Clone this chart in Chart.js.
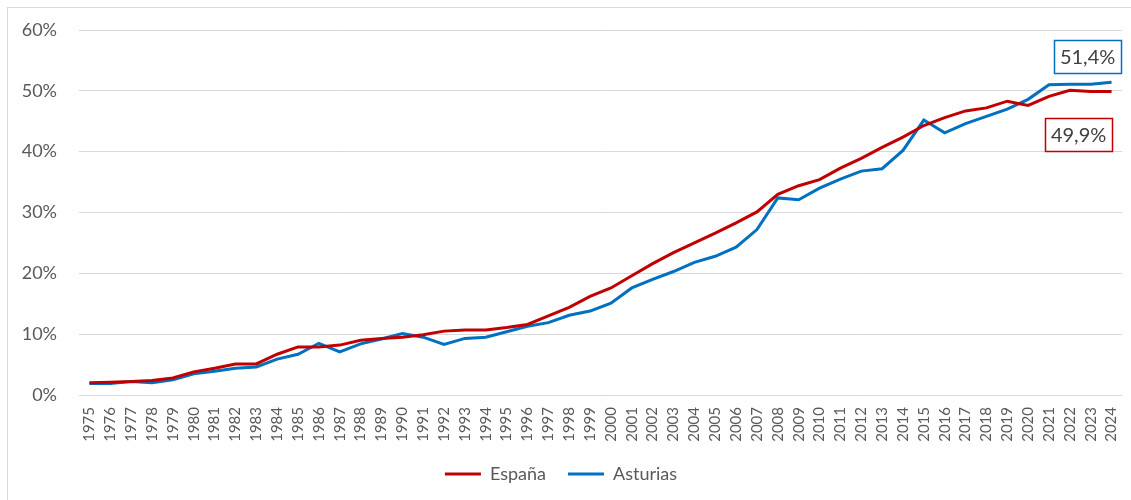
<!DOCTYPE html>
<html>
<head>
<meta charset="utf-8">
<script src="https://cdn.jsdelivr.net/npm/chart.js@4/dist/chart.umd.min.js"></script>
<style>
  html, body { margin: 0; padding: 0; background: #fff; }
  #wrap { position: absolute; left: 0; top: 0; width: 1131px; height: 500px; }
</style>
</head>
<body>
<div id="wrap"><canvas id="chart"></canvas></div>
<script>
// años
const years = [
  "1975","1976","1977","1978","1979","1980","1981","1982","1983","1984",
  "1985","1986","1987","1988","1989","1990","1991","1992","1993","1994",
  "1995","1996","1997","1998","1999","2000","2001","2002","2003","2004",
  "2005","2006","2007","2008","2009","2010","2011","2012","2013","2014",
  "2015","2016","2017","2018","2019","2020","2021","2022","2023","2024"
];

// valores en %
const espana = [
  2.0, 2.1, 2.2, 2.4, 2.8, 3.8, 4.4, 5.1, 5.1, 6.7,
  7.9, 7.9, 8.2, 9.0, 9.3, 9.5, 9.9, 10.5, 10.7, 10.7,
  11.1, 11.6, 13.0, 14.4, 16.2, 17.6, 19.6, 21.6, 23.4, 25.0,
  26.6, 28.3, 30.1, 33.0, 34.4, 35.4, 37.3, 38.9, 40.7, 42.4,
  44.3, 45.6, 46.7, 47.2, 48.3, 47.6, 49.1, 50.1, 49.9, 49.9
];
const asturias = [
  1.9, 1.9, 2.2, 2.0, 2.5, 3.5, 3.9, 4.4, 4.6, 5.9,
  6.7, 8.5, 7.1, 8.4, 9.2, 10.1, 9.5, 8.3, 9.3, 9.5,
  10.4, 11.3, 11.9, 13.1, 13.8, 15.1, 17.6, 19.0, 20.3, 21.8,
  22.8, 24.3, 27.2, 32.4, 32.1, 34.0, 35.5, 36.8, 37.2, 40.2,
  45.2, 43.1, 44.6, 45.8, 47.0, 48.6, 51.0, 51.1, 51.1, 51.4
];

const yTicks = [0, 10, 20, 30, 40, 50, 60];

const textColor = "#595959";
const gridColor = "#d9d9d9";
const fontFamily = "Lato, 'Open Sans', sans-serif";

// borde del gráfico (solo arriba e izquierda visibles)
const frame = {
  id: "frame",
  beforeDraw(chart) {
    const ctx = chart.ctx;
    ctx.save();
    ctx.strokeStyle = gridColor;
    ctx.lineWidth = 1;
    ctx.strokeRect(7.5, 7.5, chart.width + 20, chart.height + 20);
    ctx.restore();
  }
};

// etiqueta del último valor en un recuadro
const lastLabel = {
  id: "lastLabel",
  afterDatasetsDraw(chart, args, opts) {
    const ctx = chart.ctx;
    chart.data.datasets.forEach((ds, i) => {
      const off = opts.offsets[i];
      const meta = chart.getDatasetMeta(i);
      const pt = meta.data[meta.data.length - 1];
      const val = ds.data[ds.data.length - 1];
      const txt = val.toFixed(1).replace(".", ",") + "%";
      const cx = pt.x + off.dx, cy = pt.y + off.dy;
      const w = 67, h = 33;
      ctx.save();
      ctx.fillStyle = "#fff";
      ctx.fillRect(cx - w / 2, cy - h / 2, w, h);
      ctx.strokeStyle = ds.borderColor;
      ctx.lineWidth = 1.5;
      ctx.strokeRect(Math.round(cx - w / 2) + 0.5, Math.round(cy - h / 2) + 0.5, w, h);
      ctx.fillStyle = "#404040";
      ctx.font = "20px " + fontFamily;
      ctx.textAlign = "center";
      ctx.textBaseline = "middle";
      ctx.fillText(txt, cx, cy + 1);
      ctx.restore();
    });
  }
};

new Chart(document.getElementById("chart"), {
  type: "line",
  data: {
    labels: years,
    datasets: [
      {
        label: "España",
        data: espana,
        borderColor: "#C00000",
        backgroundColor: "#C00000",
        borderWidth: 3,
        pointRadius: 0,
        tension: 0
      },
      {
        label: "Asturias",
        data: asturias,
        borderColor: "#0070C0",
        backgroundColor: "#0070C0",
        borderWidth: 3,
        pointRadius: 0,
        tension: 0
      }
    ]
  },
  options: {
    responsive: true,
    maintainAspectRatio: false,
    animation: false,
    layout: { padding: { top: 30, left: 0, right: 9, bottom: 7 } },
    plugins: {
      tooltip: { enabled: false },
      legend: {
        position: "bottom",
        labels: {
          color: textColor,
          font: { family: fontFamily, size: 18 },
          boxWidth: 36,
          boxHeight: 3,
          padding: 22,
          generateLabels(chart) {
            return chart.data.datasets.map((ds, i) => ({
              text: ds.label,
              fillStyle: ds.borderColor,
              strokeStyle: ds.borderColor,
              lineWidth: 0,
              fontColor: textColor,
              datasetIndex: i
            }));
          }
        }
      },
      lastLabel: {
        offsets: [ { dx: -33, dy: 43 }, { dx: -24, dy: -26 } ]
      }
    },
    scales: {
      x: {
        offset: true,
        grid: { display: false, drawTicks: false },
        border: { display: false },
        ticks: {
          color: textColor,
          font: { family: fontFamily, size: 15 },
          minRotation: 90,
          maxRotation: 90,
          autoSkip: false,
          padding: 12
        },
        afterFit(scale) {
          scale.paddingLeft = 0;
          scale.paddingRight = 0;
          scale.height = 48;
        }
      },
      y: {
        min: 0,
        max: 60,
        grid: { color: gridColor, drawTicks: false },
        border: { display: false },
        afterBuildTicks(scale) { scale.ticks = yTicks.map(v => ({ value: v })); },
        ticks: {
          color: textColor,
          font: { family: fontFamily, size: 18 },
          padding: 22,
          callback: v => v + "%"
        },
        afterFit(scale) {
          scale.width = 79;
          scale.paddingTop = 0;
          scale.paddingBottom = 0;
        }
      }
    }
  },
  plugins: [frame, lastLabel]
});
</script>
</body>
</html>
